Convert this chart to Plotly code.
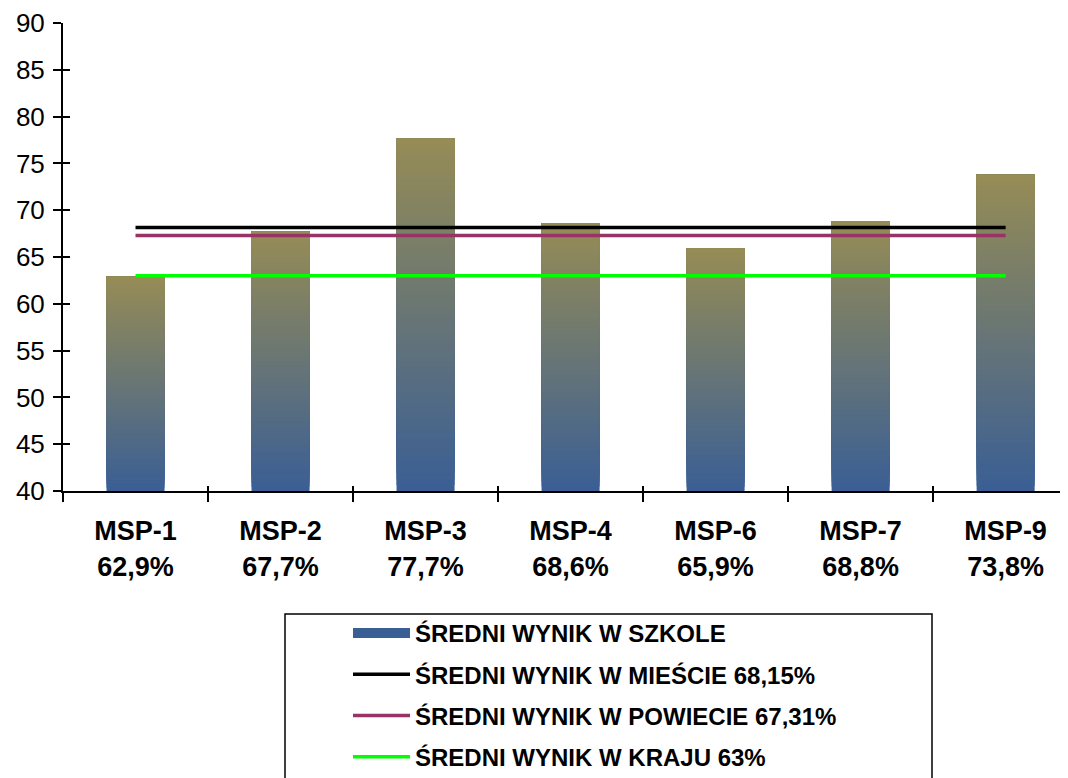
import plotly.graph_objects as go

schools = ["MSP-1", "MSP-2", "MSP-3", "MSP-4", "MSP-6", "MSP-7", "MSP-9"]
school_scores = [62.9, 67.7, 77.7, 68.6, 65.9, 68.8, 73.8]

bar_label = "ŚREDNI WYNIK W SZKOLE"
line_labels = ["ŚREDNI WYNIK W MIEŚCIE", "ŚREDNI WYNIK W POWIECIE", "ŚREDNI WYNIK W KRAJU"]
line_values = [68.15, 67.31, 63]
line_colors = ["#000000", "#993366", "#00FF00"]

Y_MIN, Y_MAX = 40, 90
TOP_RGB = (150, 140, 85)
BOTTOM_RGB = (58, 95, 149)
N_SEG = 60
FONT = "Liberation Sans, Arial, sans-serif"

# page body has an 8px margin, so the figure is a little smaller than the window
OFF = 8
W, H = 1060, 770
ML, MR, MT, MB = 55, 0, 15, 287


def fmt(v):
    return f"{v:g}".replace(".", ",")


tick_text = [f"{s}<br>{fmt(v)}%" for s, v in zip(schools, school_scores)]

fig = go.Figure()

# gradient bars: slices drawn from bottom up, each reaching the bar top,
# so later (more olive) slices cover the earlier ones without gaps
for k in range(N_SEG):
    t = (k + 0.5) / N_SEG
    rgb = tuple(round(b + (a - b) * t) for a, b in zip(TOP_RGB, BOTTOM_RGB))
    fig.add_trace(go.Bar(
        x=schools,
        y=[(v - Y_MIN) * (N_SEG - k) / N_SEG for v in school_scores],
        base=[Y_MIN + (v - Y_MIN) * k / N_SEG for v in school_scores],
        width=0.4,
        marker=dict(color="rgb(%d,%d,%d)" % rgb, line=dict(width=0)),
        showlegend=False, hoverinfo="skip",
    ))

# legend entry for the bars (drawn as a thick line swatch)
fig.add_trace(go.Scatter(
    x=[None], y=[None], mode="lines", name=bar_label, legendgroup="g0",
    line=dict(color="rgb(%d,%d,%d)" % BOTTOM_RGB, width=15),
))

for i, (lab, val, col) in enumerate(zip(line_labels, line_values, line_colors)):
    fig.add_trace(go.Scatter(
        x=schools, y=[val] * len(schools), mode="lines",
        name=f"{lab} {fmt(val)}%", legendgroup=f"g{i + 1}",
        line=dict(color=col, width=3.5),
    ))

# dummy trace so the overlay axes (inner half of the crossing ticks) are drawn
fig.add_trace(go.Scatter(x=[None], y=[None], xaxis="x2", yaxis="y2",
                         showlegend=False, hoverinfo="skip"))

pw, ph = W - ML - MR, H - MT - MB


def px_x(p):
    return (p - OFF - ML) / pw


def px_y(p):
    return (H - MB - (p - OFF)) / ph


# legend frame
fig.add_shape(type="rect", xref="paper", yref="paper",
              x0=px_x(285), x1=px_x(932), y0=px_y(614), y1=px_y(800),
              line=dict(color="#000000", width=1.5), fillcolor="rgba(0,0,0,0)")

x_range = [-0.5, 6.43]
fig.update_layout(
    width=W, height=H,
    margin=dict(l=ML, r=MR, t=MT, b=MB, autoexpand=False),
    plot_bgcolor="white", paper_bgcolor="white",
    barmode="overlay",
    font=dict(family=FONT, color="#000000"),
    xaxis=dict(
        type="category", range=x_range, tickmode="array",
        tickvals=schools, ticktext=tick_text, tickson="boundaries",
        ticks="outside", ticklen=9, tickwidth=2, tickcolor="#000000",
        showline=True, linecolor="#000000", linewidth=2, showgrid=False,
        tickfont=dict(family=FONT, size=27, weight="bold"),
        ticklabelstandoff=15, automargin=False,
    ),
    yaxis=dict(
        range=[Y_MIN, Y_MAX], tickmode="linear", tick0=Y_MIN, dtick=5,
        ticks="outside", ticklen=8, tickwidth=2, tickcolor="#000000",
        showline=True, linecolor="#000000", linewidth=2, showgrid=False,
        zeroline=False, tickfont=dict(family=FONT, size=26),
        ticklabelstandoff=3, automargin=False,
    ),
    xaxis2=dict(
        overlaying="x", anchor="y", range=x_range, tickmode="linear",
        tick0=-0.5, dtick=1, ticks="inside", ticklen=5, tickwidth=2,
        tickcolor="#000000", showticklabels=False, showgrid=False,
        zeroline=False, showline=False, automargin=False,
    ),
    yaxis2=dict(
        overlaying="y", anchor="x", side="left", range=[Y_MIN, Y_MAX],
        tickmode="linear", tick0=Y_MIN, dtick=5, ticks="inside", ticklen=7,
        tickwidth=2, tickcolor="#000000", showticklabels=False,
        showgrid=False, zeroline=False, showline=False, automargin=False,
    ),
    legend=dict(
        x=px_x(348), xanchor="left", y=px_y(611), yanchor="top",
        bgcolor="rgba(0,0,0,0)", borderwidth=0,
        traceorder="grouped", tracegroupgap=7, itemwidth=57,
        font=dict(family=FONT, size=24, weight="bold"),
    ),
)

fig.write_html("out.html")
